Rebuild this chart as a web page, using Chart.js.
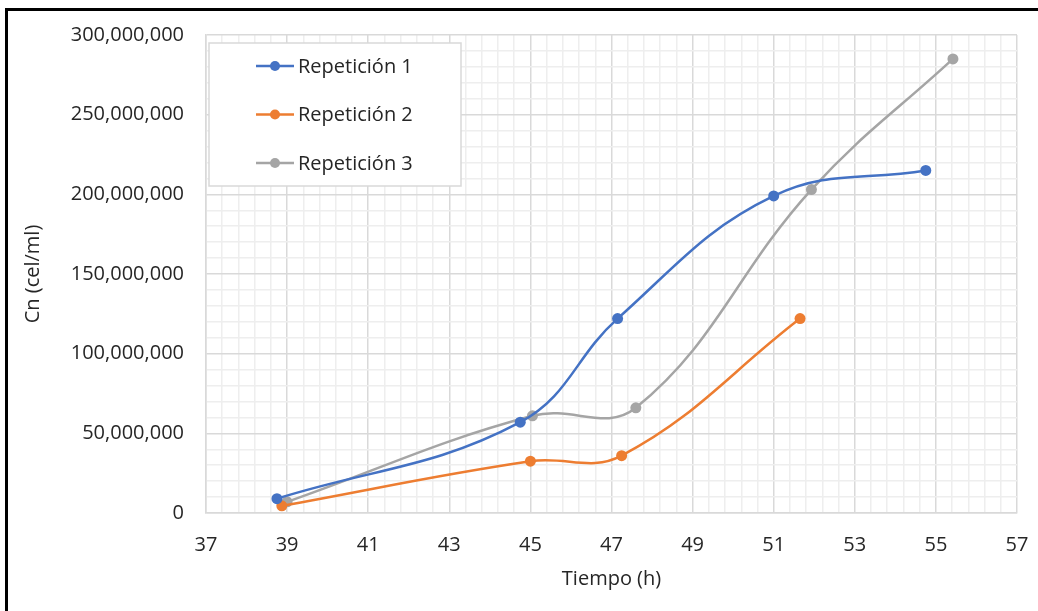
<!DOCTYPE html>
<html>
<head>
<meta charset="utf-8">
<script src="https://cdn.jsdelivr.net/npm/chart.js@4/dist/chart.umd.min.js"></script>
<style>
  html, body { margin: 0; padding: 0; background: #ffffff; overflow: hidden; }
  #wrap { position: relative; width: 1038px; height: 611px; }
  #chart { position: absolute; left: 0; top: 0; }
  #frame {
    position: absolute; left: 5px; top: 8px; right: -20px; bottom: -20px;
    border-left: 3px solid #000; border-top: 3px solid #000;
    pointer-events: none;
  }
</style>
</head>
<body>
<div id="wrap">
  <canvas id="chart" width="1038" height="611"></canvas>
  <div id="frame"></div>
</div>
<script>

/* datos */

const seriesNames = ["Repetición 1", "Repetición 2", "Repetición 3"];

const rep1Time = [38.75, 44.75, 47.15, 51.0, 54.75];
const rep1Cn = [9000000, 57000000, 122000000, 199000000, 215000000];

const rep2Time = [38.87, 45.0, 47.25, 51.65];
const rep2Cn = [4500000, 32500000, 36000000, 122000000];

const rep3Time = [39.0, 45.05, 47.6, 51.93, 55.42];
const rep3Cn = [7000000, 61000000, 66000000, 203000000, 285000000];

const xTickLabels = ["37", "39", "41", "43", "45", "47", "49", "51", "53", "55", "57"];
const yTickLabels = ["0", "50,000,000", "100,000,000", "150,000,000", "200,000,000", "250,000,000", "300,000,000"];

const xMin = 37, xMax = 57, xMinor = 0.4;
const yMin = 0, yMax = 300000000, yMinor = 10000000, yMajor = 50000000;

const colors = ["#4472C4", "#ED7D31", "#A5A5A5"];

const FONT = "'Open Sans', 'Liberation Sans', sans-serif";

function toPoints(xs, ys) {
    return xs.map((x, i) => ({ x: x, y: ys[i] }));
}

function isMajorX(v) {
    return xTickLabels.some(l => Math.abs(Number(l) - v) < 1e-6);
}

function isMajorY(v) {
    return Math.abs(v / yMajor - Math.round(v / yMajor)) < 1e-6;
}

const legendBox = {

    id: "legendBox",

    afterDraw(chart) {

        const ctx = chart.ctx;
        const area = chart.chartArea;

        const left = area.left + 3;
        const top = area.top + 8;
        const w = 252;
        const h = 143;

        ctx.save();
        ctx.fillStyle = "#ffffff";
        ctx.fillRect(left, top, w, h);
        ctx.strokeStyle = "#d9d9d9";
        ctx.lineWidth = 1.5;
        ctx.strokeRect(left, top, w, h);

        ctx.font = "20px " + FONT;
        ctx.textBaseline = "middle";
        ctx.textAlign = "left";

        chart.data.datasets.forEach((ds, i) => {

            const cy = top + 23 + i * 48.5;
            const x0 = left + 47;

            ctx.strokeStyle = ds.borderColor;
            ctx.lineWidth = 2.5;
            ctx.beginPath();
            ctx.moveTo(x0, cy);
            ctx.lineTo(x0 + 38, cy);
            ctx.stroke();

            ctx.fillStyle = ds.borderColor;
            ctx.beginPath();
            ctx.arc(x0 + 19, cy, 5, 0, Math.PI * 2);
            ctx.fill();

            ctx.fillStyle = "#262626";
            ctx.fillText(ds.label, x0 + 42, cy + 1);

        });

        ctx.restore();

    }

};

const datasets = [
    toPoints(rep1Time, rep1Cn),
    toPoints(rep2Time, rep2Cn),
    toPoints(rep3Time, rep3Cn)
].map((pts, i) => ({
    label: seriesNames[i],
    data: pts,
    borderColor: colors[i],
    backgroundColor: colors[i],
    borderWidth: 2.5,
    pointRadius: 5.5,
    pointHoverRadius: 5.5,
    pointBorderWidth: 0,
    tension: 0.4,
    fill: false
}));

new Chart(document.getElementById("chart"), {

    type: "scatter",

    data: { datasets: datasets },

    options: {

        responsive: false,
        animation: false,
        showLine: true,

        layout: {
            padding: { top: 35, right: 21, left: 0, bottom: 0 }
        },

        plugins: {
            legend: { display: false },
            tooltip: { enabled: false }
        },

        scales: {

            x: {
                type: "linear",
                min: xMin,
                max: xMax,
                afterBuildTicks(scale) {
                    const t = [];
                    const n = Math.round((xMax - xMin) / xMinor);
                    for (let i = 0; i <= n; i++) t.push({ value: xMin + i * xMinor });
                    scale.ticks = t;
                },
                afterFit(scale) {
                    scale.height = 98;
                    scale.paddingLeft = 0;
                    scale.paddingRight = 0;
                },
                ticks: {
                    autoSkip: false,
                    maxRotation: 0,
                    padding: 20,
                    color: "#262626",
                    font: { family: FONT, size: 20 },
                    callback(v) {
                        const lab = xTickLabels.find(l => Math.abs(Number(l) - v) < 1e-6);
                        return lab === undefined ? "" : lab;
                    }
                },
                grid: {
                    drawTicks: false,
                    color: ctx => isMajorX(ctx.tick.value) ? "#d9d9d9" : "#eeeeee",
                    lineWidth: 1.5
                },
                border: { color: "#d9d9d9", width: 1.5 },
                title: {
                    display: true,
                    text: "Tiempo (h)",
                    color: "#262626",
                    font: { family: FONT, size: 20 },
                    padding: { top: 0, bottom: 20 }
                }
            },

            y: {
                type: "linear",
                min: yMin,
                max: yMax,
                afterFit(scale) {
                    scale.width = 206;
                },
                ticks: {
                    stepSize: yMinor,
                    autoSkip: false,
                    padding: 22,
                    color: "#262626",
                    font: { family: FONT, size: 20 },
                    callback(v) {
                        if (!isMajorY(v)) return "";
                        return yTickLabels[Math.round(v / yMajor)];
                    }
                },
                grid: {
                    drawTicks: false,
                    color: ctx => isMajorY(ctx.tick.value) ? "#d9d9d9" : "#eeeeee",
                    lineWidth: 1.5
                },
                border: { color: "#d9d9d9", width: 1.5 },
                title: {
                    display: true,
                    text: "Cn (cel/ml)",
                    color: "#262626",
                    font: { family: FONT, size: 20 },
                    padding: { top: 21, bottom: 0 }
                }
            }

        }

    },

    plugins: [legendBox]

});

</script>
</body>
</html>
